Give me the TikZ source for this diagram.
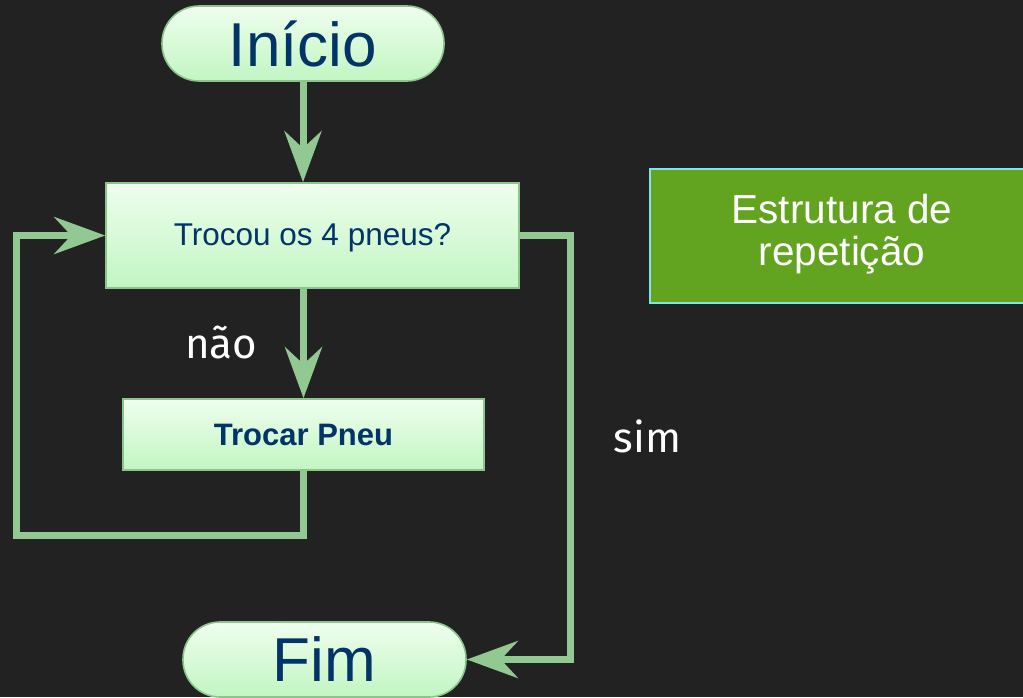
\documentclass[tikz,border=0pt]{standalone}
\usepackage{fontspec}
\setmainfont{Liberation Sans}
\newfontfamily\labelfont{Fira Sans}
\usetikzlibrary{arrows.meta,calc}
\definecolor{bg}{HTML}{222222}
\definecolor{flowgreen}{HTML}{92C892}
\definecolor{boxtop}{HTML}{EEFEEE}
\definecolor{boxbot}{HTML}{C2F5C2}
\definecolor{boxline}{HTML}{8CC48C}
\definecolor{txtblue}{HTML}{033468}
\definecolor{notegreen}{HTML}{62A420}
\definecolor{notecyan}{HTML}{7FE6E6}
\tikzset{
  greenbox/.style={draw=boxline, line width=1.6pt, top color=boxtop, bottom color=boxbot,
     text=txtblue, inner sep=0pt, anchor=center},
  terminal/.style={greenbox, rounded corners=37pt, minimum height=75pt},
  flow/.style={draw=flowgreen, line width=7pt, line join=miter},
  flowarrow/.style={flow, -{Stealth[length=51pt, width=37pt, inset=17pt]}},
  lbl/.style={text=white, font=\labelfont\fontsize{42}{46}\selectfont, inner sep=0pt},
}
\begin{document}
\begin{tikzpicture}[x=1pt,y=-1pt]
\fill[bg] (0,0) rectangle (1023,697);
\useasboundingbox (0,0) rectangle (1023,697);

\node[terminal, minimum width=282pt, font=\fontsize{62}{70}\selectfont] (inicio) at (303,43.5) {Início};
\node[greenbox, minimum width=413pt, minimum height=105pt, font=\fontsize{31.5}{36}\selectfont,
      text depth=0pt, text height=0pt] (decisao) at (312.5,235.5) {};
\node[text=txtblue, font=\fontsize{31.5}{36}\selectfont, inner sep=0pt] (dectxt) at (312.5,238) {Trocou os 4 pneus?};
\node[greenbox, minimum width=361pt, minimum height=71pt, font=\bfseries\fontsize{31}{36}\selectfont] (trocar) at (303.5,434.5) {Trocar Pneu};
\node[terminal, minimum width=283pt, font=\fontsize{62}{70}\selectfont] (fim) at (324.5,659.5) {Fim};

\node[draw=notecyan, line width=2pt, fill=notegreen, text=white, minimum width=400pt, minimum height=134pt,
      anchor=north west, inner sep=0pt] (nota) at (649,168) {};
\node[text=white, align=center, font=\fontsize{40.5}{42}\selectfont, inner sep=0pt] (notatxt) at (842,234) {Estrutura de\\repetição};

\node[lbl] (nao) at (221,342) {não};
\node[lbl] (sim) at (647.5,436) {sim};

\coordinate (lb) at (16.5,535);
\coordinate (rc) at (570,659.5);

\draw[flowarrow] (inicio.south) -- (decisao.north -| inicio.south);
\draw[flowarrow] (decisao.south -| trocar.north) -- (trocar.north);
\draw[flowarrow] (trocar.south) |- (lb) |- (decisao.west);
\draw[flowarrow] (decisao.east) -| (rc) -- (fim.east);
\end{tikzpicture}
\end{document}
